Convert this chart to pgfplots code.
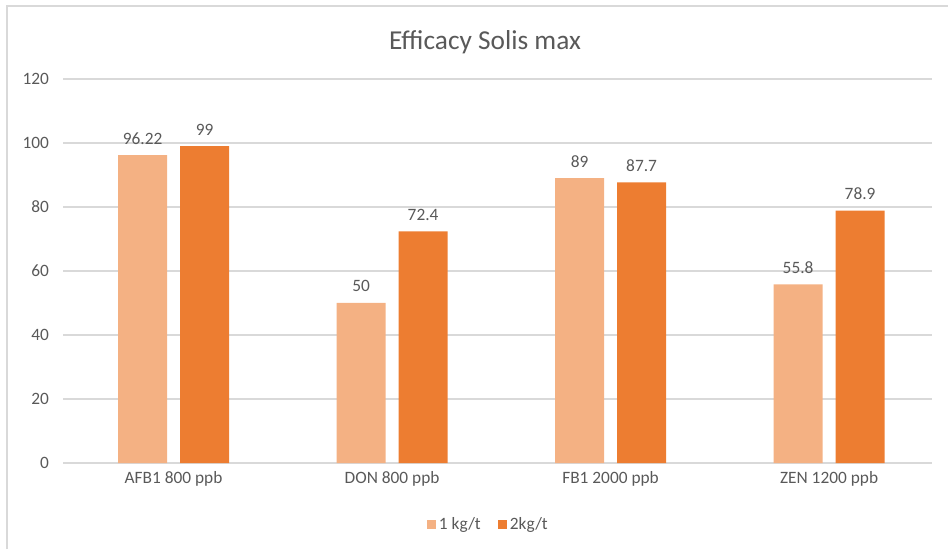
\documentclass[border=0pt]{standalone}
\usepackage{pgfplots}
\pgfplotsset{compat=1.18}
\usepackage{fontspec}
\setmainfont{Carlito}
\definecolor{lightor}{HTML}{F4B183}
\definecolor{darkor}{HTML}{ED7D31}
\definecolor{txt}{HTML}{595959}
\definecolor{grd}{HTML}{D9D9D9}
\begin{document}
\begin{tikzpicture}
\useasboundingbox (0pt,0pt) rectangle (711pt,411.75pt);
\draw[grd, line width=0.8pt] (5.25pt,0pt) -- (5.25pt,407.25pt) -- (711pt,407.25pt);
\node[txt, font=\fontsize{20.5}{24}\selectfont] at (363.75pt,380.25pt) {Efficacy Solis max};
\begin{axis}[
  at={(47.25pt,64.5pt)}, anchor=south west,
  scale only axis, width=651.75pt, height=288pt,
  xmin=-0.506, xmax=3.471, ymin=0, ymax=120,
  ytick={0,20,...,120},
  xtick={0,1,2,3},
  xticklabels={AFB1 800 ppb, DON 800 ppb, FB1 2000 ppb, ZEN 1200 ppb},
  /pgf/number format/assume math mode=true,
  axis line style={draw=none},
  major tick length=0pt,
  ymajorgrids, grid style={grd, line width=0.8pt},
  ticklabel style={txt, font=\fontsize{13}{15}\selectfont},
  yticklabel style={xshift=-7pt},
  xticklabel style={yshift=-3pt},
  ybar, bar width=36.75pt,
  nodes near coords,
  nodes near coords style={txt, font=\fontsize{13}{15}\selectfont, anchor=south, inner sep=0pt, yshift=8pt},
  legend columns=2,
  legend style={at={(0.49,-0.161)}, anchor=center, draw=none, fill=none,
    font=\fontsize{13}{15}\selectfont, text=txt,
    /tikz/every even column/.append style={column sep=11pt}},
  legend image code/.code={\fill[#1] (0pt,-3.3pt) rectangle (6.8pt,3.3pt);},
]
\addplot[fill=lightor, draw=none, bar shift=-23.25pt] coordinates {(0,96.22) (1,50) (2,89) (3,55.8)};
\addplot[fill=darkor, draw=none, bar shift=23.25pt] coordinates {(0,99) (1,72.4) (2,87.7) (3,78.9)};
\legend{1 kg/t, 2kg/t}
\end{axis}
\end{tikzpicture}
\end{document}
